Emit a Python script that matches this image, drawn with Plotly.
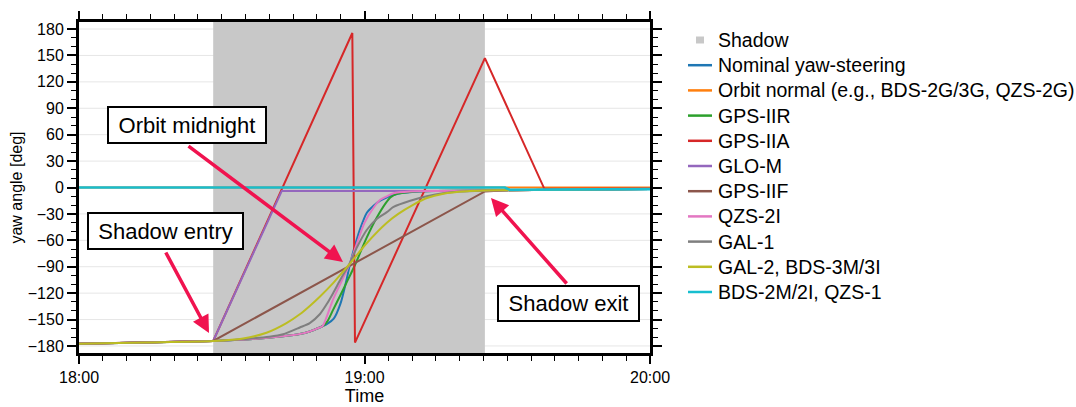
import plotly.graph_objects as go

# ---------------- data (minutes after 18:00, yaw angle in deg) ----------------
shadow_entry = 28.2
shadow_exit = 85.3

tick_vals = [0, 60, 120]
tick_text = ["18:00", "19:00", "20:00"]
y_ticks = [-180, -150, -120, -90, -60, -30, 0, 30, 60, 90, 120, 150, 180]

nominal_t = [0, 14, 28.2, 35.9, 42.9, 46.4, 48.5, 50.6, 52.15, 53.54, 54.95, 56.26, 56.95, 58, 59.05, 60.46, 61.85, 63.3, 65, 67, 70, 75, 85.3, 90, 100, 120]
nominal_y = [-177.4, -176, -174.3, -172.4, -169, -166.5, -163.5, -159, -155, -149, -132, -104, -87, -66, -47.6, -29, -21, -15, -10.5, -7, -5, -4, -3.5, -3, -2.5, -1.8]

orbitnormal_t = [0, 120]
orbitnormal_y = [0, 0]

iir_t = [0, 14, 28.2, 35.9, 42.9, 46.4, 48.5, 50.6, 51.2, 52.2, 53.45, 54.85, 56.5, 58, 60.46, 62.5, 64.5, 65.5, 67, 70, 75, 85.3, 90, 100, 120]
iir_y = [-177.4, -176, -174.3, -172.4, -169, -166.5, -163.5, -159, -157.5, -152, -138.4, -123.3, -105, -88, -57, -35, -17.5, -11, -7, -4.7, -4, -3.5, -3, -2.5, -1.8]

iia_t = [0, 14, 28.2, 57.44, 58.0, 85.3, 97.8, 120]
iia_y = [-177.4, -176, -174.3, 175.5, -176.2, 147, -1.5, -1.2]

glo_t = [0, 14, 28.2, 42.6, 85.3, 90, 100, 120]
glo_y = [-177.4, -176, -174.3, -4, -4, -3, -2.5, -1.8]

iif_t = [0, 14, 28.2, 85.3, 90, 100, 120]
iif_y = [-177.4, -176, -174.3, -4.5, -3, -2.5, -1.8]

qzs2i_t = [0, 14, 28.2, 35.9, 42.9, 46.4, 48.5, 50.6, 51.2, 53.4, 55.5, 56.8, 58.5, 60, 61.9, 63.3, 64.7, 66.1, 69.6, 75, 85.3, 90, 100, 120]
qzs2i_y = [-177.4, -176, -174.3, -172.4, -169, -166.5, -163.5, -159, -157.5, -127, -103, -88, -62, -40, -23, -14, -10, -6.5, -4.5, -4, -3.5, -3, -2.5, -1.8]

gal1_t = [0, 14, 28.2, 35, 40, 42.9, 46.4, 48.5, 50.6, 52, 53.4, 55, 56.7, 58.5, 60.5, 62.5, 64.7, 66.1, 69.6, 73.1, 76.5, 80.1, 85.3, 90, 100, 120]
gal1_y = [-177.4, -176, -174.3, -172, -169.5, -166.7, -159, -154, -144, -133, -120, -104, -88, -67, -48, -36, -28, -22, -15, -10, -6.5, -4.5, -3.5, -3, -2.5, -1.8]

gal2_t = [0, 14, 28.2, 34.5, 39.4, 43.6, 46.4, 48.5, 50.6, 53.5, 56.7, 60.5, 64.7, 67.1, 70.3, 73.1, 76.6, 81.5, 85.3, 90, 100, 120]
gal2_y = [-177.4, -176, -174.3, -171.5, -165, -154, -144, -134.5, -124, -108, -88, -63, -40, -30, -19.5, -12, -7, -4.3, -3.5, -3, -2.5, -1.8]

bds2m_t = [0, 89.5, 90.5, 100, 120]
bds2m_y = [0, 0, -2.6, -2.3, -1.8]

series = [
    ("Nominal yaw-steering", nominal_t, nominal_y, "#1f77b4", "spline", 2),
    ("Orbit normal (e.g., BDS-2G/3G, QZS-2G)", orbitnormal_t, orbitnormal_y, "#ff7f0e", "linear", 2),
    ("GPS-IIR", iir_t, iir_y, "#2ca02c", "spline", 2),
    ("GPS-IIA", iia_t, iia_y, "#d62728", "linear", 2),
    ("GLO-M", glo_t, glo_y, "#9467bd", "linear", 2),
    ("GPS-IIF", iif_t, iif_y, "#8c564b", "linear", 2),
    ("QZS-2I", qzs2i_t, qzs2i_y, "#e377c2", "spline", 2),
    ("GAL-1", gal1_t, gal1_y, "#7f7f7f", "spline", 2),
    ("GAL-2, BDS-3M/3I", gal2_t, gal2_y, "#bcbd22", "spline", 2),
    ("BDS-2M/2I, QZS-1", bds2m_t, bds2m_y, "#17becf", "linear", 2.6),
]

FONT = "Liberation Sans, Arial, sans-serif"
SHADOW_COLOR = "#c8c8c8"
GRID_COLOR = "#e6e6e6"
ARROW_COLOR = "#f0134f"

L, R, T, B = 79, 426, 22, 54
W, H = 1076, 407
pw, ph = W - L - R, H - T - B


def px(xp):
    return (xp - L) / pw


def py(yp):
    return (H - B - yp) / ph


fig = go.Figure()

for name, t, y, color, shape, lw in series:
    line = dict(color=color, width=lw, shape=shape)
    if shape == "spline":
        line["smoothing"] = 0.7
    fig.add_trace(go.Scatter(x=t, y=y, mode="lines", name=name, line=line, showlegend=False))

# horizontal grid lines (drawn as shapes so the shadow can cover them)
for v in y_ticks:
    fig.add_hline(y=v, line=dict(color=GRID_COLOR, width=1), layer="below")

# shadow period
fig.add_vrect(x0=shadow_entry, x1=shadow_exit, fillcolor=SHADOW_COLOR, opacity=1,
              line_width=0, layer="below")

# ---------------- legend (drawn manually for exact spacing) ----------------
LEG_X0, LEG_X1, LEG_TX, LEG_Y0, LEG_DY = 688, 712, 716, 40, 25.2
legend_font = dict(family=FONT, size=19.5, color="black")
fig.add_shape(type="rect", xref="paper", yref="paper",
              x0=px(696), x1=px(704), y0=py(LEG_Y0 + 3.5), y1=py(LEG_Y0 - 3.5),
              fillcolor=SHADOW_COLOR, line_width=0)
fig.add_annotation(x=px(LEG_TX), y=py(LEG_Y0), xref="paper", yref="paper", text="Shadow",
                   showarrow=False, xanchor="left", yanchor="middle", font=legend_font)
for i, (name, t, y, color, shape, lw) in enumerate(series, start=1):
    yy = LEG_Y0 + i * LEG_DY
    fig.add_shape(type="line", xref="paper", yref="paper",
                  x0=px(LEG_X0), x1=px(LEG_X1), y0=py(yy), y1=py(yy),
                  line=dict(color=color, width=2.5))
    fig.add_annotation(x=px(LEG_TX), y=py(yy), xref="paper", yref="paper", text=name,
                       showarrow=False, xanchor="left", yanchor="middle", font=legend_font)

# ---------------- callout boxes ----------------
boxes = [
    ("Orbit midnight", 187, 125, 156, 34),
    ("Shadow entry", 165.5, 231, 153, 34),
    ("Shadow exit", 568.5, 303.5, 139, 33),
]
for text, cx, cy, w, h in boxes:
    fig.add_annotation(x=px(cx), y=py(cy), xref="paper", yref="paper", text=text,
                       showarrow=False, xanchor="center", yanchor="middle",
                       font=dict(family=FONT, size=22, color="black"),
                       bgcolor="white", bordercolor="black", borderwidth=2, borderpad=0,
                       width=w, height=h, align="center", valign="middle")

# arrows (start -> tip in pixel coords)
arrows = [
    ((187, 145), (343, 262)),
    ((165, 251), (209, 333)),
    ((568, 285), (491, 198)),
]
for (sx, sy), (tx, ty) in arrows:
    fig.add_annotation(x=px(tx), y=py(ty), xref="paper", yref="paper", text="",
                       showarrow=True, ax=sx - tx, ay=sy - ty, axref="pixel", ayref="pixel",
                       arrowcolor=ARROW_COLOR, arrowwidth=3.5, arrowhead=2, arrowsize=1,
                       standoff=0, startstandoff=0)

fig.update_layout(
    width=W, height=H,
    margin=dict(l=L, r=R, t=T, b=B, autoexpand=False),
    paper_bgcolor="white", plot_bgcolor="white",
    font=dict(family=FONT, color="black"),
    showlegend=False,
)

fig.update_xaxes(
    range=[0, 120], tickvals=tick_vals, ticktext=tick_text,
    ticks="outside", ticklen=8, tickwidth=1.5, tickcolor="black",
    minor=dict(dtick=5, tick0=0, ticks="outside", ticklen=5, tickwidth=1, tickcolor="black", showgrid=False),
    showline=True, linewidth=3, linecolor="black", mirror="ticks",
    showgrid=False, zeroline=False, automargin=False,
    tickfont=dict(family=FONT, size=16, color="black"),
    title=dict(text="Time", font=dict(family=FONT, size=18, color="black"), standoff=3),
)
fig.update_yaxes(
    range=[-188, 188], tickvals=y_ticks,
    ticks="outside", ticklen=9, tickwidth=1.5, tickcolor="black",
    minor=dict(dtick=10, tick0=0, ticks="outside", ticklen=5, tickwidth=1, tickcolor="black", showgrid=False),
    showline=True, linewidth=3, linecolor="black", mirror="ticks",
    showgrid=False, zeroline=False, automargin=False,
    tickfont=dict(family=FONT, size=16, color="black"),
    title=dict(text="yaw angle [deg]", font=dict(family=FONT, size=16, color="black"), standoff=2),
)

fig.write_html("out.html")
